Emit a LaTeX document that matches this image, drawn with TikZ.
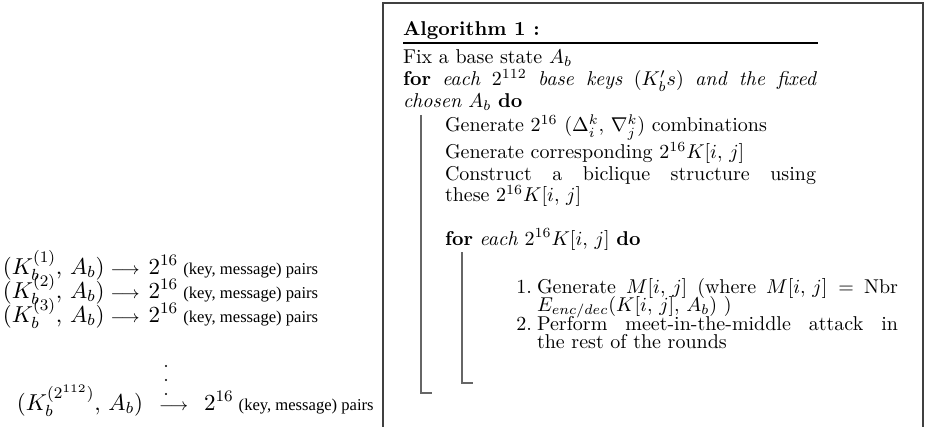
\RequirePackage{fix-cm}
\documentclass[tikz,border=0pt]{standalone}
\usepackage{amsmath,amssymb}
\usepackage{fontspec}
\newfontfamily\timesfont{Liberation Serif}
\usepackage{tikz}
\usetikzlibrary{positioning, calc}

\newcommand{\pairs}{{\timesfont\fontsize{8.3}{10}\selectfont (key, message) pairs}}
\newcommand{\maps}{{\fontsize{8.5}{10}\selectfont$\longrightarrow$}}
\newcommand{\jline}[2]{\makebox[#1][s]{#2}}

\begin{document}
\begin{tikzpicture}[
    x=0.5pt, y=-0.5pt,
    every node/.style={inner sep=0pt, outer sep=0pt, anchor=base west, font=\fontsize{10}{12}\selectfont},
    keyrow/.style={font=\fontsize{11.5}{14}\selectfont},
    blockline/.style={draw=black!60, line width=0.8pt},
    frame/.style={draw=black!75, line width=0.6pt},
    rule/.style={line width=1.1pt}
]
\useasboundingbox (0,0) rectangle (925,427);

% left: keys with the fixed base state
\node[keyrow] (r1) at (3,274) {$(K_b^{(1)},\, A_b)$\hspace{3pt}\maps\hspace{4.5pt}$2^{16}$\hspace{2.5pt}\pairs};
\node[keyrow] (r2) at (3,298) {$(K_b^{(2)},\, A_b)$\hspace{3pt}\maps\hspace{4.5pt}$2^{16}$\hspace{2.5pt}\pairs};
\node[keyrow] (r3) at (3,322) {$(K_b^{(3)},\, A_b)$\hspace{3pt}\maps\hspace{4.5pt}$2^{16}$\hspace{2.5pt}\pairs};
\node[keyrow] (rn) at (17,410) {$(K_b^{(2^{112})},\, A_b)$\hspace{8pt}\maps\hspace{8pt}$2^{16}$\hspace{2.5pt}\pairs};
\foreach \yy in {366,380,394}
    \fill (166,\yy) circle (1.1);

% right: the algorithm box
\draw[frame] (383,427) -- (383,3) -- (923,3) -- (923,427);
\node (alg) at (403,36) {\textbf{Algorithm 1 :}};
\draw[rule] ($(alg.base west)+(0,7)$) -- ++(415,0);

\node (fix) at (403,64) {Fix a base state $A_b$};
\node (loop1) at (403,86) {\jline{207pt}{\textbf{for} \textit{each} $2^{112}$ \textit{base keys} $(K_b's)$ \textit{and the fixed}}};
\node (chosen) at (403,108) {\textit{chosen} $A_b$ \textbf{do}};

\node (gen1) at (445,132) {Generate $2^{16}$ $(\Delta_i^k,\, \nabla_j^k)$ combinations};
\node (gen2) at (445,159) {Generate corresponding $2^{16}K[i,\,j]$};
\node (cons) at (445,181) {\jline{185.5pt}{Construct a biclique structure using}};
\node (these) at (445,202) {these $2^{16}K[i,\,j]$};

\node (loop2) at (445,245) {\textbf{for} \textit{each} $2^{16}K[i,\,j]$ \textbf{do}};

\node[anchor=base east] (n1) at (532,293) {1.};
\node (step1) at (537,293) {\jline{180.5pt}{Generate $M[i,\,j]$ (where $M[i,\,j] =$ Nbr}};
\node (step1b) at (537,311) {$E_{enc/dec}(K[i,\,j],\, A_b)$ )};
\node[anchor=base east] (n2) at (532,330) {2.};
\node (step2) at (537,330) {\jline{180.5pt}{Perform meet-in-the-middle attack in}};
\node (step2b) at (537,348) {the rest of the rounds};

% block lines of the two loops
\coordinate (outertop) at (421,115);
\coordinate (outerend) at (432,393);
\coordinate (innertop) at (462,252);
\coordinate (innerend) at (473,383);
\draw[blockline] (outertop) |- (outerend);
\draw[blockline] (innertop) |- (innerend);
\end{tikzpicture}
\end{document}
